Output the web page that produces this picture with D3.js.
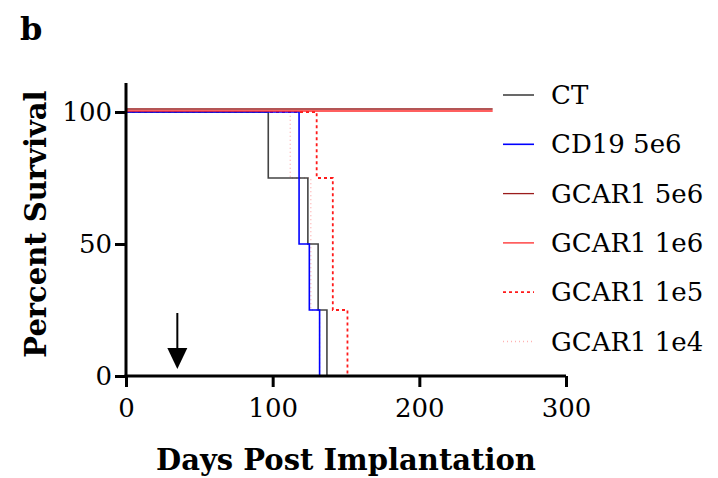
<!DOCTYPE html>
<html>
<head>
<meta charset="utf-8">
<script src="https://cdn.jsdelivr.net/npm/d3@7"></script>
<style>
  body { margin: 0; background: #fff; }
  text { font-family: "DejaVu Serif", serif; }
</style>
</head>
<body>
<div id="chart"></div>
<script>
// datos
const grupos = ["CT", "CD19 5e6", "GCAR1 5e6", "GCAR1 1e6", "GCAR1 1e5", "GCAR1 1e4"];
const diasCT = [0, 97, 124, 131, 137];
const survCT = [100, 75, 50, 25, 0];
const diasCD19 = [0, 118, 125, 132];
const survCD19 = [100, 50, 25, 0];
const dias5e6 = [0, 250];
const surv5e6 = [100, 100];
const dias1e6 = [0, 250];
const surv1e6 = [100, 100];
const dias1e5 = [0, 130, 141, 151];
const surv1e5 = [100, 75, 25, 0];
const dias1e4 = [0, 112, 126, 132];
const surv1e4 = [100, 75, 25, 0];
const xTicks = [0, 100, 200, 300];
const yTicks = [0, 50, 100];
const diaFlecha = 35;

const estilos = [
  {color: "#444", dash: null, w: 1.6, off: 0},
  {color: "#0000ff", dash: null, w: 1.6, off: 0},
  {color: "#9b1c1c", dash: null, w: 1.3, off: -3},
  {color: "#ff2a2a", dash: null, w: 1.3, off: -1},
  {color: "#ff1a1a", dash: "3,3", w: 1.8, off: 0},
  {color: "#ffb3b3", dash: "1,3", w: 1.4, off: 0}
];

const series = [
  [diasCT, survCT], [diasCD19, survCD19], [dias5e6, surv5e6],
  [dias1e6, surv1e6], [dias1e5, surv1e5], [dias1e4, surv1e4]
].map(([d, s]) => d.map((x, i) => ({dia: x, surv: s[i]})));

const W = 718, H = 478;
const svg = d3.select("#chart").append("svg").attr("width", W).attr("height", H);

const x = d3.scaleLinear().domain([0, 300]).range([126, 566]);
const y = d3.scaleLinear().domain([0, 100]).range([376, 112]);

// letra del panel
svg.append("text").attr("x", 20).attr("y", 40)
  .style("font-size", "32px").style("font-weight", "bold").text("b");

// curvas de supervivencia (dibujar de atrás hacia adelante)
const orden = [5, 4, 0, 1, 3, 2];
orden.forEach(i => {
  const e = estilos[i];
  const linea = d3.line()
    .x(d => x(d.dia))
    .y(d => y(d.surv) + e.off)
    .curve(d3.curveStepAfter);
  svg.append("path")
    .datum(series[i])
    .attr("d", linea)
    .attr("fill", "none")
    .attr("stroke", e.color)
    .attr("stroke-width", e.w)
    .attr("stroke-dasharray", e.dash);
});

// ejes
const ejeX = svg.append("g").attr("transform", "translate(0," + y(0) + ")")
  .call(d3.axisBottom(x).tickValues(xTicks).tickSize(11).tickPadding(12));
const ejeY = svg.append("g").attr("transform", "translate(" + x(0) + ",0)")
  .call(d3.axisLeft(y).tickValues(yTicks).tickSize(11).tickPadding(3));
[ejeX, ejeY].forEach(g => {
  g.attr("font-family", "DejaVu Serif").attr("font-size", 26);
  g.selectAll(".domain").attr("stroke", "#000").attr("stroke-width", 3);
  g.selectAll(".tick line").attr("stroke", "#000").attr("stroke-width", 3);
  g.selectAll(".tick text").attr("fill", "#000");
});
ejeY.select(".domain").attr("d", "M0,83V" + y(0));
ejeX.select(".domain").attr("d", "M" + (x(0) - 1.5) + ",0H" + x(300));

// títulos
svg.append("text").attr("x", 346).attr("y", 470).attr("text-anchor", "middle")
  .style("font-size", "29px").style("font-weight", "bold").text("Days Post Implantation");
svg.append("text").attr("transform", "translate(46,224) rotate(-90)").attr("text-anchor", "middle")
  .style("font-size", "29px").style("font-weight", "bold").text("Percent Survival");

// flecha de tratamiento
const fx = x(diaFlecha);
svg.append("line").attr("x1", fx).attr("x2", fx).attr("y1", 313).attr("y2", 350)
  .attr("stroke", "#000").attr("stroke-width", 2);
svg.append("path").attr("d", `M${fx - 10},348L${fx + 10},348L${fx},369Z`).attr("fill", "#000");

// leyenda
const leyenda = svg.append("g");
grupos.forEach((g, i) => {
  const yy = 95 + i * 49.3;
  const e = estilos[i];
  leyenda.append("line").attr("x1", 503).attr("x2", 534).attr("y1", yy).attr("y2", yy)
    .attr("stroke", e.color).attr("stroke-width", e.w).attr("stroke-dasharray", e.dash);
  leyenda.append("text").attr("x", 551).attr("y", yy + 9)
    .style("font-size", "26px").text(g);
});
</script>
</body>
</html>
